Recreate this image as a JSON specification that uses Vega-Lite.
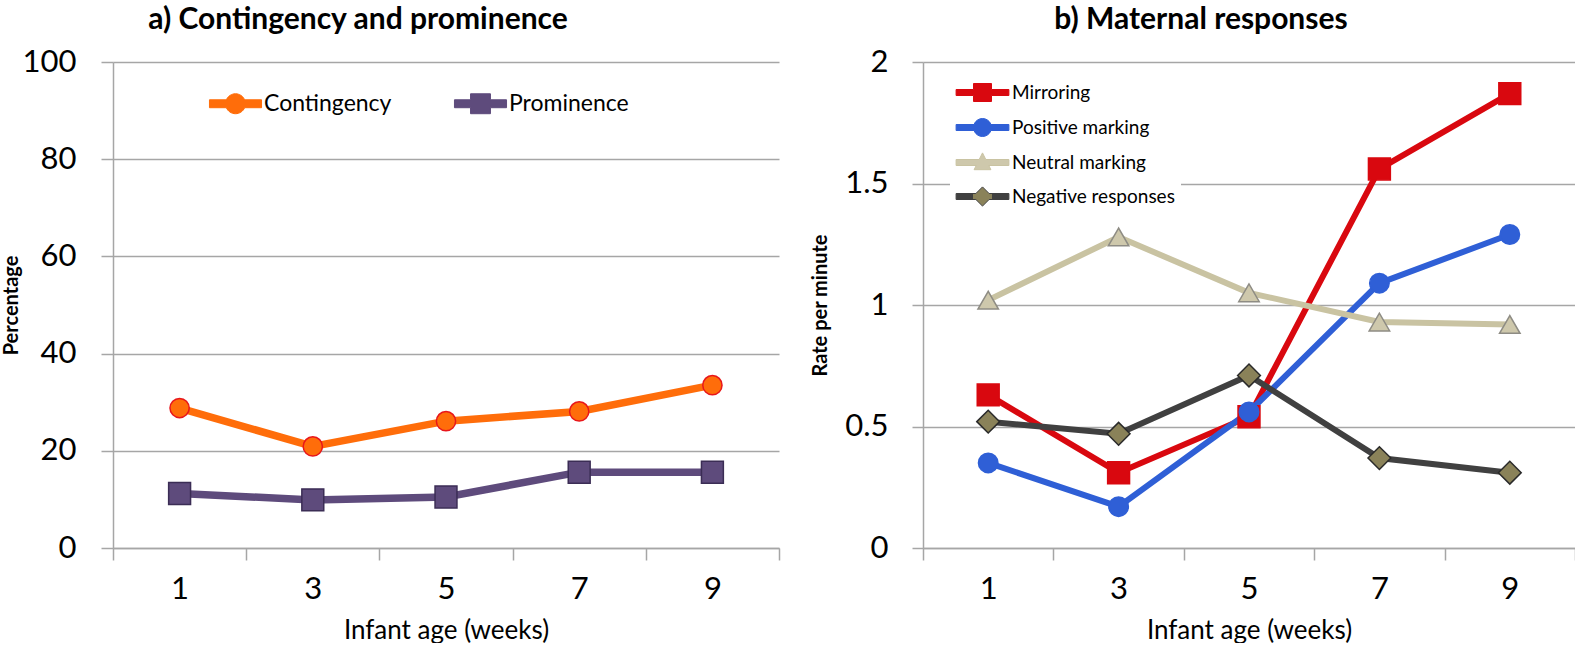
{
  "$schema": "https://vega.github.io/schema/vega-lite/v6.json",
  "padding": {"left": 1, "top": 5, "right": 0, "bottom": 0},
  "spacing": 144,
  "bounds": "flush",
  "background": "white",
  "resolve": {
    "scale": {"color": "independent"},
    "legend": {"color": "independent"}
  },
  "datasets": {
    "a": [
      {"week": 1, "series": "Contingency", "value": 28.8},
      {"week": 3, "series": "Contingency", "value": 20.9},
      {"week": 5, "series": "Contingency", "value": 26.1},
      {"week": 7, "series": "Contingency", "value": 28.1},
      {"week": 9, "series": "Contingency", "value": 33.5},
      {"week": 1, "series": "Prominence", "value": 11.2},
      {"week": 3, "series": "Prominence", "value": 9.9},
      {"week": 5, "series": "Prominence", "value": 10.5},
      {"week": 7, "series": "Prominence", "value": 15.6},
      {"week": 9, "series": "Prominence", "value": 15.6}
    ],
    "b": [
      {"week": 1, "series": "Mirroring", "value": 0.63},
      {"week": 3, "series": "Mirroring", "value": 0.31},
      {"week": 5, "series": "Mirroring", "value": 0.54},
      {"week": 7, "series": "Mirroring", "value": 1.56},
      {"week": 9, "series": "Mirroring", "value": 1.87},
      {"week": 1, "series": "Positive marking", "value": 0.35},
      {"week": 3, "series": "Positive marking", "value": 0.17},
      {"week": 5, "series": "Positive marking", "value": 0.56},
      {"week": 7, "series": "Positive marking", "value": 1.09},
      {"week": 9, "series": "Positive marking", "value": 1.29},
      {"week": 1, "series": "Neutral marking", "value": 1.02},
      {"week": 3, "series": "Neutral marking", "value": 1.28},
      {"week": 5, "series": "Neutral marking", "value": 1.05},
      {"week": 7, "series": "Neutral marking", "value": 0.93},
      {"week": 9, "series": "Neutral marking", "value": 0.92},
      {"week": 1, "series": "Negative responses", "value": 0.52},
      {"week": 3, "series": "Negative responses", "value": 0.47},
      {"week": 5, "series": "Negative responses", "value": 0.71},
      {"week": 7, "series": "Negative responses", "value": 0.37},
      {"week": 9, "series": "Negative responses", "value": 0.31}
    ]
  },
  "config": {
    "font": "Lato",
    "view": {"stroke": null},
    "axis": {
      "gridColor": "#A6A6A6", "gridWidth": 1.5,
      "domainColor": "#A6A6A6", "domainWidth": 1.5,
      "tickColor": "#A6A6A6", "tickWidth": 1.5,
      "labelColor": "#000000", "titleColor": "#000000",
      "labelFont": "Lato", "titleFont": "Lato"
    },
    "title": {"font": "Lato", "fontSize": 30, "fontWeight": "bold", "color": "#000000"},
    "legend": {"labelFont": "Lato", "labelColor": "#000000", "labelLimit": 400}
  },
  "hconcat": [
    {
      "width": 666,
      "height": 486,
      "title": {"text": "a) Contingency and prominence", "frame": "group", "anchor": "middle", "dx": -88, "offset": 11},
      "data": {"name": "a"},
      "encoding": {
        "x": {
          "field": "week", "type": "ordinal", "bandPosition": 0.5,
          "scale": {"type": "band", "paddingInner": 0, "paddingOuter": 0},
          "axis": {"title": "Infant age (weeks)", "labelAngle": 0, "tickBand": "extent", "tickSize": 12,
                   "labelFontSize": 31, "labelPadding": 14, "titleFontSize": 26, "titleFontWeight": "normal",
                   "titlePadding": 13, "grid": false}
        },
        "y": {
          "field": "value", "type": "quantitative",
          "scale": {"domain": [0, 100], "nice": false},
          "axis": {"title": "Percentage", "values": [0, 20, 40, 60, 80, 100], "tickSize": 12, "labelPadding": 25,
                   "labelFontSize": 31, "titleFontSize": 20, "titleFontWeight": "bold", "titlePadding": 1, "grid": true}
        }
      },
      "layer": [
        {
          "mark": {"type": "line", "strokeWidth": 7.5},
          "encoding": {
            "color": {
              "field": "series", "type": "nominal",
              "scale": {"domain": ["Contingency", "Prominence"], "range": ["#FF6D0A", "#5E4B7C"]},
              "legend": {
                "orient": "none", "legendX": 96, "legendY": 29, "direction": "horizontal", "title": null,
                "symbolSize": 576, "symbolOffset": 14, "labelOffset": 16, "labelFontSize": 23,
                "columnPadding": 60, "padding": 0, "symbolStrokeWidth": 1,
                "encode": {
                  "symbols": {
                    "update": {
                      "shape": {"signal": "datum.value === 'Contingency' ? 'M-2.17,-0.33L-0.762,-0.33A0.83,0.83,0,0,1,0.762,-0.33L2.17,-0.33L2.17,0.33L0.762,0.33A0.83,0.83,0,0,1,-0.762,0.33L-2.17,0.33Z' : 'M-2.17,-0.33L-0.83,-0.33L-0.83,-0.83L0.83,-0.83L0.83,-0.33L2.17,-0.33L2.17,0.33L0.83,0.33L0.83,0.83L-0.83,0.83L-0.83,0.33L-2.17,0.33Z'"},
                      "fill": {"signal": "datum.value === 'Contingency' ? '#FF6D0A' : '#5E4B7C'"},
                      "strokeWidth": {"value": 1},
                      "opacity": {"value": 1}
                    }
                  }
                }
              }
            }
          }
        },
        {
          "mark": {"type": "point", "filled": true, "opacity": 1, "strokeWidth": 1.5},
          "encoding": {
            "fill": {"condition": {"test": "datum.series === 'Contingency'", "value": "#FF6D0A"}, "value": "#5E4B7C"},
            "stroke": {"condition": {"test": "datum.series === 'Contingency'", "value": "#E8161B"}, "value": "#3B2D55"},
            "shape": {"condition": {"test": "datum.series === 'Contingency'", "value": "circle"}, "value": "square"},
            "size": {"condition": {"test": "datum.series === 'Contingency'", "value": 370}, "value": 480}
          }
        }
      ]
    },
    {
      "width": 652,
      "height": 486,
      "title": {"text": "b) Maternal responses", "frame": "group", "anchor": "middle", "dx": -48, "offset": 11},
      "data": {"name": "b"},
      "encoding": {
        "x": {
          "field": "week", "type": "ordinal", "bandPosition": 0.5,
          "scale": {"type": "band", "paddingInner": 0, "paddingOuter": 0},
          "axis": {"title": "Infant age (weeks)", "labelAngle": 0, "tickBand": "extent", "tickSize": 12,
                   "labelFontSize": 31, "labelPadding": 14, "titleFontSize": 26, "titleFontWeight": "normal",
                   "titlePadding": 13, "grid": false}
        },
        "y": {
          "field": "value", "type": "quantitative",
          "scale": {"domain": [0, 2], "nice": false},
          "axis": {"title": "Rate per minute", "values": [0, 0.5, 1, 1.5, 2], "format": "~g", "tickSize": 11, "labelPadding": 24,
                   "labelFontSize": 31, "titleFontSize": 20, "titleFontWeight": "bold", "titlePadding": 14, "grid": true}
        }
      },
      "layer": [
        {
          "mark": {"type": "line", "strokeWidth": 6},
          "encoding": {
            "color": {
              "field": "series", "type": "nominal",
              "scale": {"domain": ["Mirroring", "Positive marking", "Neutral marking", "Negative responses"],
                        "range": ["#D9080F", "#2F5FD6", "#C9C3A2", "#404040"]},
              "legend": {
                "orient": "none", "legendX": 27, "legendY": 12, "direction": "vertical", "title": null,
                "symbolSize": 576, "symbolOffset": 14, "labelOffset": 17, "labelFontSize": 19,
                "rowPadding": 11, "padding": 6, "fillColor": "white", "symbolStrokeWidth": 1,
                "encode": {
                  "symbols": {
                    "update": {
                      "shape": {"signal": "datum.value === 'Mirroring' ? 'M-2.2,-0.25L-0.75,-0.25L-0.75,-0.75L0.75,-0.75L0.75,-0.25L2.2,-0.25L2.2,0.25L0.75,0.25L0.75,0.75L-0.75,0.75L-0.75,0.25L-2.2,0.25Z' : datum.value === 'Positive marking' ? 'M-2.2,-0.25L-0.707,-0.25A0.75,0.75,0,0,1,0.707,-0.25L2.2,-0.25L2.2,0.25L0.707,0.25A0.75,0.75,0,0,1,-0.707,0.25L-2.2,0.25Z' : datum.value === 'Neutral marking' ? 'M-2.2,-0.25L-0.275,-0.25L0,-0.8L0.275,-0.25L2.2,-0.25L2.2,0.25L0.525,0.25L0.7,0.6L-0.7,0.6L-0.525,0.25L-2.2,0.25Z' : 'M-2.2,-0.25L-0.55,-0.25L0,-0.8L0.55,-0.25L2.2,-0.25L2.2,0.25L0.55,0.25L0,0.8L-0.55,0.25L-2.2,0.25Z'"},
                      "fill": {"signal": "datum.value === 'Mirroring' ? '#D9080F' : datum.value === 'Positive marking' ? '#2F5FD6' : datum.value === 'Neutral marking' ? '#CEC8AC' : {gradient:'linear',stops:[{offset:0,color:'#404040'},{offset:0.32,color:'#404040'},{offset:0.32,color:'#8A8259'},{offset:0.68,color:'#8A8259'},{offset:0.68,color:'#404040'},{offset:1,color:'#404040'}]}"},
                      "strokeWidth": {"value": 1},
                      "opacity": {"value": 1}
                    }
                  }
                }
              }
            }
          }
        },
        {
          "mark": {"type": "point", "filled": true, "opacity": 1, "strokeWidth": 1.5},
          "encoding": {
            "fill": {"condition": [
                       {"test": "datum.series === 'Mirroring'", "value": "#D9080F"},
                       {"test": "datum.series === 'Positive marking'", "value": "#2F5FD6"},
                       {"test": "datum.series === 'Neutral marking'", "value": "#CEC8AC"}
                     ], "value": "#8A8259"},
            "stroke": {"condition": [
                       {"test": "datum.series === 'Mirroring'", "value": "#D9080F"},
                       {"test": "datum.series === 'Positive marking'", "value": "#2F5FD6"},
                       {"test": "datum.series === 'Neutral marking'", "value": "#8E8C84"}
                     ], "value": "#2A2A2A"},
            "shape": {"condition": [
                       {"test": "datum.series === 'Mirroring'", "value": "square"},
                       {"test": "datum.series === 'Positive marking'", "value": "circle"},
                       {"test": "datum.series === 'Neutral marking'", "value": "triangle-up"}
                     ], "value": "diamond"},
            "size": {"condition": [
                       {"test": "datum.series === 'Mirroring'", "value": 480},
                       {"test": "datum.series === 'Positive marking'", "value": 380},
                       {"test": "datum.series === 'Neutral marking'", "value": 420}
                     ], "value": 520}
          }
        }
      ]
    }
  ]
}
